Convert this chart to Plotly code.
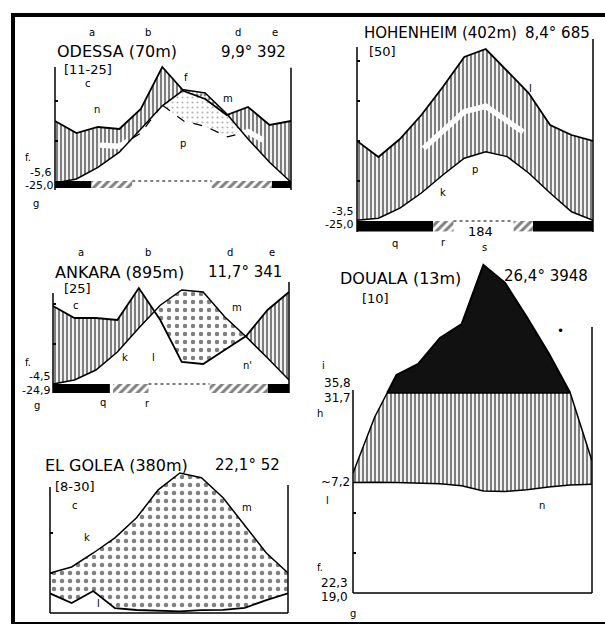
import numpy as np
import plotly.graph_objects as go

W, H = 605, 626
month_pos = list(range(12))  # Jan .. Dec

# ---------------- data (temperature in °C, precipitation in mm) ----------------
odessa_temp = [-0.5, 0.5, 3.4, 7.2, 13.0, 18.8, 22.8, 22.0, 16.8, 10.5, 4.7, -0.3]
odessa_prec = [30, 24, 27, 26, 36, 57, 45, 41, 33, 37, 28, 30]
hohenheim_temp = [0.2, 0.7, 3.2, 7.0, 11.5, 15.7, 17.3, 16.1, 12.0, 7.0, 2.3, 0.2]
hohenheim_prec = [40, 32, 41, 53, 67, 82, 86, 75, 64, 48, 43, 40]
ankara_temp = [0.0, 1.0, 3.5, 8.0, 14.0, 19.7, 23.5, 23.0, 16.8, 11.8, 6.5, 1.0]
ankara_prec = [39, 33, 33, 32, 48, 32, 11, 10, 17, 24, 37, 46]
douala_temp = [27.6, 27.7, 27.6, 27.5, 27.3, 26.8, 25.5, 25.4, 25.8, 26.5, 27.0, 27.2]
douala_prec = [60, 88, 190, 245, 375, 445, 740, 650, 480, 300, 100, 66]
elgolea_temp = [10.0, 11.5, 15.0, 18.8, 23.8, 30.8, 35.0, 33.8, 28.8, 22.0, 15.0, 10.0]
elgolea_prec = [9.8, 5.0, 11.0, 2.4, 1.5, 1.2, 0.8, 1.4, 1.6, 2.6, 6.4, 9.8]

# frost periods (month positions): q = mean daily minimum below 0, r = absolute minimum below 0
odessa_frost_q = [(0, 1.7), (10.1, 11)]
odessa_frost_r = [(1.7, 3.6), (7.3, 10.1)]
hohenheim_frost_q = [(0, 3.55), (8.2, 11)]
hohenheim_frost_r = [(3.55, 4.5), (7.3, 8.2)]
ankara_frost_q = [(0, 2.65), (10.0, 11)]
ankara_frost_r = [(2.8, 4.45), (7.3, 10.0)]

# reduced-scale precipitation curve (10°C = 30 mm) drawn as white band
odessa_band = [(2.1, 3.4), (8.5, 9.7)]
hohenheim_band = [(3.1, 7.75)]

# ---------------- panel geometry (layout) ----------------
PXC = 4.0  # pixels per °C
panels = {
    "odessa":    dict(xl=55,  xr=291, zero=181, lo=-2.25, hi=29.0, ticks=[10, 20],
                      axl=28.5, axr=28.3),
    "hohenheim": dict(xl=357, xr=593, zero=221, lo=-2.75, hi=45.5, ticks=[10, 20, 30, 40],
                      axl=43.5, axr=47.0),
    "ankara":    dict(xl=53,  xr=289, zero=384, lo=-2.25, hi=25.5, ticks=[10, 20],
                      axl=22.75, axr=25.5),
    "douala":    dict(xl=353, xr=592, zero=593, lo=-0.5, hi=84.0, ticks=[10, 20],
                      axl=50.75, axr=66.5),
    "elgolea":   dict(xl=50,  xr=288, zero=613, lo=-0.5, hi=37.0, ticks=[10, 20],
                      axl=31.5, axr=32.0),
}
order = ["odessa", "hohenheim", "ankara", "douala", "elgolea"]

fig = go.Figure()
layout = dict(width=W, height=H, margin=dict(l=0, r=0, t=0, b=0),
              paper_bgcolor="white", plot_bgcolor="rgba(0,0,0,0)", showlegend=False)
axes = {}
for n, key in enumerate(order, start=1):
    p = panels[key]
    top_px = p["zero"] - p["hi"] * PXC
    bot_px = p["zero"] - p["lo"] * PXC
    sfx = "" if n == 1 else str(n)
    layout["xaxis" + sfx] = dict(domain=[p["xl"] / W, p["xr"] / W], range=[0, 11],
                                 visible=False, anchor="y" + sfx)
    layout["yaxis" + sfx] = dict(domain=[1 - bot_px / H, 1 - top_px / H], range=[p["lo"], p["hi"]],
                                 showgrid=False, zeroline=False, showline=False,
                                 ticks="inside", ticklen=3, tickwidth=1.5, tickcolor="black",
                                 tickvals=p["ticks"], showticklabels=False, anchor="x" + sfx)
    axes[key] = ("x" + sfx, "y" + sfx)
fig.update_layout(**layout)


def disp_prec(mm):
    mm = np.asarray(mm, float)
    return np.where(mm <= 100, mm / 2.0, 50.0 + (mm - 100.0) / 20.0)


def xgrid(*pairs):
    xs = set(float(m) for m in month_pos)
    for a, b in pairs:
        a = np.broadcast_to(np.asarray(a, float), (12,))
        b = np.broadcast_to(np.asarray(b, float), (12,))
        d = a - b
        for i in range(11):
            if d[i] * d[i + 1] < 0:
                xs.add(i + d[i] / (d[i] - d[i + 1]))
    return np.array(sorted(xs))


def on(xg, curve):
    return np.interp(xg, month_pos, np.broadcast_to(np.asarray(curve, float), (12,)))


def region(xg, hi, lo):
    up = np.maximum(hi, lo)
    return np.concatenate([xg, xg[::-1]]), np.concatenate([up, lo[::-1]])


def add_fill(key, xs, ys, color="white", pattern=None):
    xa, ya = axes[key]
    fig.add_trace(go.Scatter(x=xs, y=ys, xaxis=xa, yaxis=ya, mode="lines",
                             line=dict(width=0, color="rgba(0,0,0,0)"), fill="toself",
                             fillcolor=color, fillpattern=pattern, hoverinfo="skip"))


def add_line(key, xs, ys, color="black", width=1.8, dash="solid"):
    xa, ya = axes[key]
    fig.add_trace(go.Scatter(x=xs, y=ys, xaxis=xa, yaxis=ya, mode="lines",
                             line=dict(color=color, width=width, dash=dash),
                             hoverinfo="skip", connectgaps=False))


HATCH = dict(shape="|", fgcolor="black", bgcolor="white", size=4, solidity=0.55)
DOTS = dict(shape=".", fgcolor="black", bgcolor="white", size=8, solidity=0.25)
FINEDOTS = dict(shape=".", fgcolor="black", bgcolor="white", size=4, solidity=0.4)
STIPPLE = dict(shape=".", fgcolor="#666666", bgcolor="white", size=5, solidity=0.14)
DIAG = dict(shape="/", fgcolor="black", bgcolor="white", size=6, solidity=0.5)


def diagram(key, temp, prec, band=None, stipple=False, dots=DOTS):
    T = np.asarray(temp, float)
    P = disp_prec(prec)
    Pr = P * 2.0 / 3.0
    xg = xgrid((P, T), (Pr, T))
    Tg, Pg, Prg = on(xg, T), on(xg, P), on(xg, Pr)
    xs, ys = region(xg, Pg, Tg)
    add_fill(key, xs, ys, pattern=HATCH)
    if stipple:
        xs, ys = region(xg, Tg, Prg)
        add_fill(key, xs, ys, pattern=STIPPLE)
        yy = np.where(Tg >= Prg - 1e-9, Prg, np.nan)
        add_line(key, xg, yy, width=1.2, dash="dash")
    xs, ys = region(xg, Tg, Pg)
    add_fill(key, xs, ys, pattern=dots)
    if band:
        for s, e in band:
            pts = [s] + [m for m in month_pos if s < m < e] + [e]
            add_line(key, pts, on(np.array(pts), Pr), color="white", width=5.5)
    add_line(key, month_pos, P, width=1.8)
    add_line(key, month_pos, T, width=1.5)


def frost(key, q, r, depth, dash_span):
    for s, e in q:
        add_fill(key, [s, e, e, s], [0, 0, -depth, -depth], color="black")
    for s, e in r:
        add_fill(key, [s, e, e, s], [0, 0, -depth, -depth], pattern=DIAG)
    add_line(key, list(dash_span), [0, 0], width=1.2, dash="dot")


# ---------------- Odessa ----------------
diagram("odessa", odessa_temp, odessa_prec, band=odessa_band, stipple=True, dots=FINEDOTS)
frost("odessa", odessa_frost_q, odessa_frost_r, 1.75, (3.6, 7.3))

# ---------------- Hohenheim ----------------
diagram("hohenheim", hohenheim_temp, hohenheim_prec, band=hohenheim_band)
frost("hohenheim", hohenheim_frost_q, hohenheim_frost_r, 2.6, (4.5, 7.3))

# ---------------- Ankara ----------------
diagram("ankara", ankara_temp, ankara_prec)
frost("ankara", ankara_frost_q, ankara_frost_r, 2.25, (4.45, 7.3))

# ---------------- El Golea ----------------
diagram("elgolea", elgolea_temp, elgolea_prec)
add_line("elgolea", [0, 11], [0, 0], width=1.5)

# ---------------- Douala ----------------
T = np.asarray(douala_temp, float)
P = disp_prec(douala_prec)
xg = xgrid((P, 50.0), (P, T))
Tg, Pg = on(xg, T), on(xg, P)
cap = np.minimum(Pg, 50.0)
xs, ys = region(xg, cap, Tg)
add_fill("douala", xs, ys, pattern=HATCH)
xs, ys = region(xg, Pg, np.full_like(xg, 50.0))
add_fill("douala", xs, ys, color="#111111")
add_line("douala", xg, np.where(Pg >= 50 - 1e-9, Pg, np.nan), width=2)
add_line("douala", xg, np.where(Pg <= 50 + 1e-9, Pg, np.nan), width=1.5)
add_line("douala", xg, np.where(Pg >= 50 - 1e-9, 50.0, np.nan), width=1.5)
add_line("douala", month_pos, T, width=1.5)
add_line("douala", [0, 11], [0, 0], width=1.5)

# ---------------- axis lines ----------------
for key in order:
    p = panels[key]
    xa, ya = axes[key]
    base = p["lo"] if p["lo"] < -1 else 0
    for xd, top in ((0, p["axl"]), (1, p["axr"])):
        fig.add_shape(type="line", xref=xa + " domain", yref=ya, x0=xd, x1=xd,
                      y0=base, y1=top, line=dict(color="black", width=1.5))

# ---------------- frame ----------------
for x0, y0, x1, y1, w in ((13, 15, 605, 15, 4), (13, 13, 13, 624, 4), (13, 623, 605, 623, 2)):
    fig.add_shape(type="line", xref="paper", yref="paper", x0=x0 / W, x1=x1 / W,
                  y0=1 - y0 / H, y1=1 - y1 / H, line=dict(color="black", width=w))

# ---------------- texts ----------------
F = "DejaVu Sans"
texts = [
    # Odessa
    (55, 52, "ODESSA (70m)", 16, "left"), (288, 52, "9,9° 392", 15, "right"),
    (62, 69, "[11-25]", 13, "left"),
    (92, 32, "a", 10, "center"), (148, 33, "b", 10, "center"), (238, 33, "d", 10, "center"),
    (275, 33, "e", 10, "center"), (88, 84, "c", 10, "center"), (97, 110, "n", 10, "center"),
    (186, 78, "f", 10, "center"), (228, 98, "m", 10, "center"), (183, 143, "p", 10, "center"),
    (28, 157, "f.", 10, "center"), (36, 203, "g", 10, "center"),
    (53, 172, "-5,6", 11, "right"), (55, 186, "-25,0", 11, "right"),
    # Hohenheim
    (362, 33, "HOHENHEIM (402m)", 15, "left"), (592, 33, "8,4° 685", 15, "right"),
    (367, 52, "[50]", 13, "left"),
    (530, 88, "l", 10, "center"), (475, 170, "p", 10, "center"), (443, 192, "k", 10, "center"),
    (355, 211, "-3,5", 11, "right"), (355, 225, "-25,0", 11, "right"),
    (480, 232, "184", 13, "center"),
    (395, 243, "q", 10, "center"), (443, 242, "r", 10, "center"), (484, 247, "s", 10, "center"),
    # Ankara
    (53, 272, "ANKARA (895m)", 16, "left"), (284, 272, "11,7° 341", 15, "right"),
    (62, 289, "[25]", 13, "left"),
    (81, 252, "a", 10, "center"), (148, 252, "b", 10, "center"), (230, 252, "d", 10, "center"),
    (272, 252, "e", 10, "center"), (76, 305, "c", 10, "center"), (125, 357, "k", 10, "center"),
    (153, 357, "l", 10, "center"), (237, 307, "m", 10, "center"), (247, 365, "n'", 10, "center"),
    (28, 362, "f.", 10, "center"), (37, 405, "g", 10, "center"), (103, 402, "q", 10, "center"),
    (147, 403, "r", 10, "center"),
    (52, 376, "-4,5", 11, "right"), (52, 390, "-24,9", 11, "right"),
    # Douala
    (338, 278, "DOUALA (13m)", 16, "left"), (590, 276, "26,4° 3948", 15, "right"),
    (360, 298, "[10]", 13, "left"),
    (323, 365, "i", 10, "center"), (353, 383, "35,8", 12, "right"), (353, 398, "31,7", 12, "right"),
    (320, 413, "h", 10, "center"), (560, 331, "•", 12, "center"),
    (352, 482, "~7,2", 12, "right"), (327, 500, "l", 10, "center"), (542, 505, "n", 10, "center"),
    (320, 567, "f.", 10, "center"), (350, 583, "22,3", 12, "right"), (350, 597, "19,0", 12, "right"),
    (353, 613, "g", 10, "center"),
    # El Golea
    (43, 465, "EL GOLEA (380m)", 16, "left"), (282, 465, "22,1° 52", 15, "right"),
    (53, 487, "[8-30]", 13, "left"),
    (75, 505, "c", 10, "center"), (87, 537, "k", 10, "center"), (247, 507, "m", 10, "center"),
    (98, 603, "l", 10, "center"),
]
for x, y, t, s, a in texts:
    fig.add_annotation(x=x / W, y=1 - y / H, xref="paper", yref="paper", text=t,
                       showarrow=False, xanchor=a, yanchor="middle",
                       font=dict(family=F, size=s, color="black"))

fig.write_html("out.html", config={"displayModeBar": False},
               post_script="document.body.style.margin='0';")
